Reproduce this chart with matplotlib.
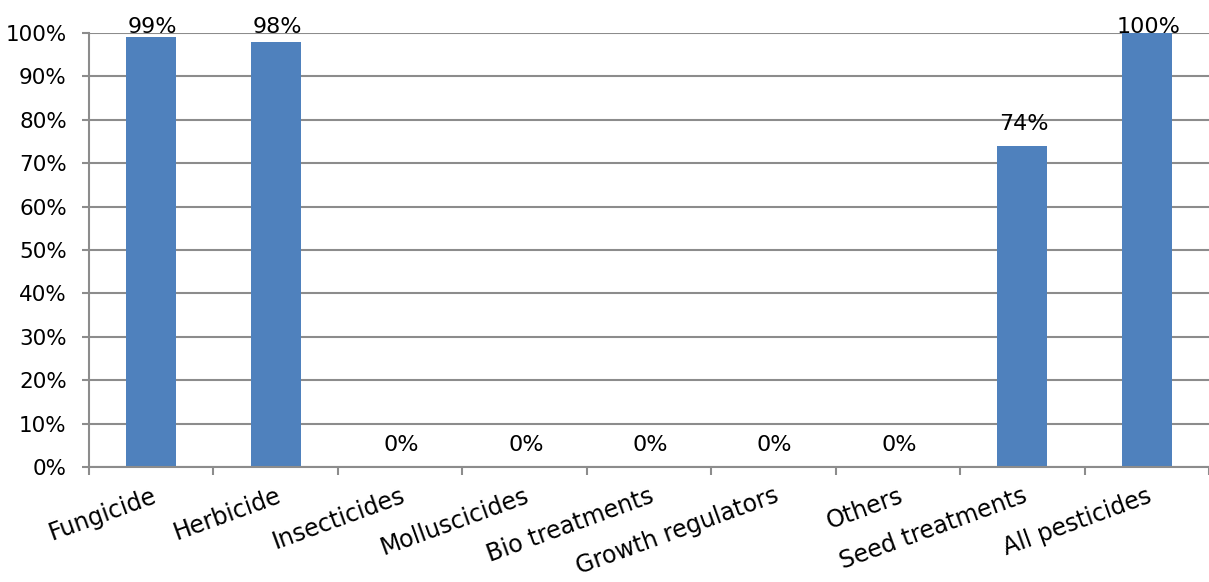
import numpy as np
import matplotlib
matplotlib.use("Agg")
import matplotlib.pyplot as plt
from matplotlib.ticker import FixedLocator, PercentFormatter

categories = ["Fungicide", "Herbicide", "Insecticides", "Molluscicides",
              "Bio treatments", "Growth regulators", "Others",
              "Seed treatments", "All pesticides"]
values = [99, 98, 0, 0, 0, 0, 0, 74, 100]
y_ticks = [0, 10, 20, 30, 40, 50, 60, 70, 80, 90, 100]

plt.rcParams["font.family"] = ["DejaVu Sans"]

bar_color = "#4F81BD"
grid_color = "#8C8C8C"

fig = plt.figure(figsize=(12.09, 5.82), dpi=100)
ax = fig.add_axes([89 / 1209, 1 - 467 / 582, 1 - 89 / 1209, (467 - 33) / 582])

x = np.arange(len(categories))
ax.bar(x, values, width=0.4, color=bar_color, zorder=3)

ax.set_xlim(-0.5, len(categories) - 0.5)
ax.set_ylim(0, 100)

ax.yaxis.set_major_locator(FixedLocator(y_ticks))
ax.yaxis.set_major_formatter(PercentFormatter(decimals=0))
ax.grid(axis="y", color=grid_color, linewidth=1.5, zorder=0)
ax.set_axisbelow(True)

for s in ["top", "right"]:
    ax.spines[s].set_visible(False)
for s in ["left", "bottom"]:
    ax.spines[s].set_color(grid_color)
    ax.spines[s].set_linewidth(1.5)
    ax.spines[s].set_zorder(4)

ax.tick_params(axis="y", length=5, width=1.5, color=grid_color,
               labelsize=15.5, pad=11)

# category labels centred on bars, boundary tick marks between categories
ax.set_xticks(x)
ax.set_xticklabels(categories, rotation=20, ha="right",
                   rotation_mode="anchor", fontsize=17)
ax.tick_params(axis="x", which="major", length=0, pad=12)
ax.set_xticks(np.arange(len(categories) + 1) - 0.5, minor=True)
ax.tick_params(axis="x", which="minor", length=6, width=1.5,
               color=grid_color)

# value labels above each bar, kept inside the top of the plot area
for xi, v in zip(x, values):
    ax.text(xi + 0.01, min(v + 3.7, 100), f"{v}%", ha="center",
            va="baseline", fontsize=16, clip_on=False, zorder=5)

fig.savefig("out.png", dpi=100)
